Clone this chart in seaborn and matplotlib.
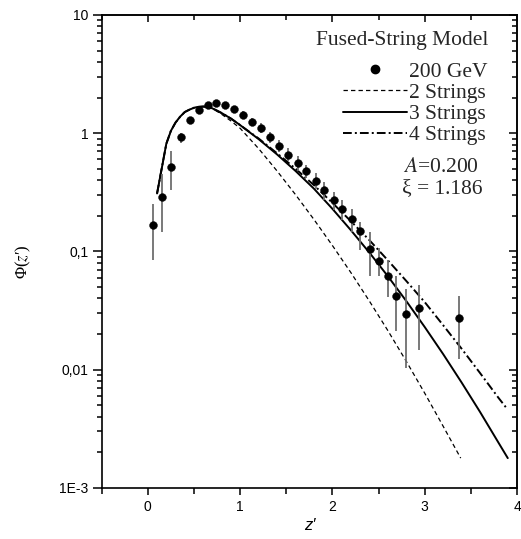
import numpy as np
import pandas as pd
import matplotlib
matplotlib.use("Agg")
import matplotlib.pyplot as plt
import seaborn as sns
from matplotlib.ticker import LogLocator, MultipleLocator, NullFormatter, FixedLocator, FixedFormatter
from matplotlib.lines import Line2D

# ---------------- data ----------------
z_data = [0.058, 0.156, 0.253, 0.354, 0.452, 0.549, 0.647, 0.741, 0.838, 0.936,
          1.033, 1.131, 1.228, 1.326, 1.423, 1.524, 1.622, 1.719, 1.817, 1.914,
          2.012, 2.109, 2.207, 2.304, 2.402, 2.500, 2.597, 2.690, 2.792, 2.937, 3.373]
phi_data = [0.166, 0.29, 0.52, 0.92, 1.29, 1.57, 1.74, 1.81, 1.72, 1.60,
            1.43, 1.24, 1.10, 0.92, 0.78, 0.66, 0.556, 0.476, 0.394, 0.331,
            0.270, 0.228, 0.187, 0.148, 0.104, 0.083, 0.062, 0.042, 0.0294, 0.0334, 0.0272]
phi_low = [0.0845, 0.147, 0.33, 0.82, 1.22, 1.48, 1.64, 1.71, 1.62, 1.51,
           1.33, 1.14, 1.00, 0.83, 0.69, 0.58, 0.48, 0.418, 0.335, 0.272,
           0.224, 0.185, 0.145, 0.103, 0.062, 0.062, 0.041, 0.021, 0.0104, 0.0145, 0.0123]
phi_high = [0.25, 0.45, 0.706, 1.01, 1.37, 1.66, 1.84, 1.92, 1.82, 1.70,
            1.54, 1.35, 1.21, 1.02, 0.88, 0.75, 0.64, 0.538, 0.458, 0.389,
            0.320, 0.272, 0.228, 0.178, 0.147, 0.106, 0.085, 0.062, 0.048, 0.052, 0.042]

z_2s = [0.10, 0.15, 0.20, 0.25, 0.30, 0.35, 0.40, 0.45, 0.50, 0.55, 0.60, 0.65, 0.70,
        0.75, 0.80, 0.90, 1.0, 1.2, 1.4, 1.6, 1.8, 2.0, 2.2, 2.4, 2.6, 2.8, 3.0, 3.2, 3.39]
phi_2s = [0.309, 0.501, 0.813, 1.047, 1.23, 1.38, 1.51, 1.58, 1.64, 1.67, 1.68, 1.67, 1.62,
          1.53, 1.445, 1.27, 1.10, 0.741, 0.479, 0.302, 0.186, 0.112, 0.0661, 0.038, 0.0214,
          0.01175, 0.00631, 0.00331, 0.00178]

z_3s = [0.10, 0.15, 0.20, 0.25, 0.30, 0.35, 0.40, 0.45, 0.50, 0.55, 0.60, 0.65, 0.70,
        0.75, 0.80, 0.90, 1.0, 1.2, 1.4, 1.6, 1.8, 2.0, 2.2, 2.4, 2.6, 2.8, 3.0, 3.2, 3.4,
        3.6, 3.8, 3.9]
phi_3s = [0.309, 0.501, 0.813, 1.047, 1.23, 1.38, 1.51, 1.58, 1.64, 1.67, 1.68, 1.67, 1.62,
          1.55, 1.48, 1.33, 1.17, 0.891, 0.661, 0.479, 0.339, 0.229, 0.151, 0.0977, 0.0617,
          0.0380, 0.0229, 0.0135, 0.00776, 0.00437, 0.0024, 0.00178]

z_4s = [0.10, 0.15, 0.20, 0.25, 0.30, 0.35, 0.40, 0.45, 0.50, 0.55, 0.60, 0.65, 0.70,
        0.75, 0.80, 0.90, 1.0, 1.2, 1.4, 1.6, 1.8, 2.0, 2.2, 2.4, 2.6, 2.8, 3.0, 3.2, 3.4,
        3.6, 3.8, 3.89]
phi_4s = [0.309, 0.501, 0.813, 1.047, 1.23, 1.38, 1.51, 1.58, 1.64, 1.67, 1.68, 1.67, 1.62,
          1.55, 1.48, 1.33, 1.17, 0.902, 0.676, 0.501, 0.363, 0.257, 0.18, 0.1245, 0.0841,
          0.0562, 0.0372, 0.0237, 0.015, 0.00933, 0.00575, 0.00468]

series_labels = ["2 Strings", "3 Strings", "4 Strings"]
data_label = "200 GeV"
legend_title = "Fused-String Model"
param_lines = [r"$\mathit{A}$=0.200", "ξ = 1.186"]
y_ticks = [1e-3, 1e-2, 1e-1, 1, 10]
y_tick_labels = ["1E-3", "0,01", "0,1", "1", "10"]
x_ticks = [0, 1, 2, 3, 4]
x_tick_labels = ["0", "1", "2", "3", "4"]

# ---------------- style ----------------
sns.set_theme(style="ticks")
plt.rcParams["font.family"] = ["Liberation Sans", "DejaVu Sans"]
plt.rcParams["mathtext.fontset"] = "stix"

curves = pd.concat([
    pd.DataFrame({"z": z_2s, "phi": phi_2s, "model": series_labels[0]}),
    pd.DataFrame({"z": z_3s, "phi": phi_3s, "model": series_labels[1]}),
    pd.DataFrame({"z": z_4s, "phi": phi_4s, "model": series_labels[2]}),
], ignore_index=True)

dash_map = {series_labels[0]: (3.5, 2.5), series_labels[1]: "", series_labels[2]: (4.5, 1.6, 1.0, 1.6)}
size_map = {series_labels[0]: 0.9, series_labels[1]: 1.4, series_labels[2]: 1.4}

fig = plt.figure(figsize=(5.21, 5.39), dpi=100)
ax = fig.add_axes([101.7 / 521, (539 - 487.7) / 539, 415.3 / 521, 472.7 / 539])

sns.lineplot(data=curves, x="z", y="phi", hue="model", style="model", size="model",
             palette={k: "black" for k in series_labels}, dashes=dash_map, sizes=size_map,
             estimator=None, sort=False, legend=False, ax=ax)

z_arr = np.array(z_data)
p_arr = np.array(phi_data)
yerr = [p_arr - np.array(phi_low), np.array(phi_high) - p_arr]
ax.errorbar(z_arr, p_arr, yerr=yerr, fmt="none", ecolor="#6e6e6e", elinewidth=1.3, capsize=0, zorder=3)
sns.scatterplot(x=z_data, y=phi_data, color="black", s=32, edgecolor="black", linewidth=0.3,
                ax=ax, zorder=5, legend=False)

ax.set_yscale("log")
ax.set_xlim(-0.5, 4)
ax.set_ylim(1e-3, 10)
ax.yaxis.set_major_locator(FixedLocator(y_ticks))
ax.yaxis.set_major_formatter(FixedFormatter(y_tick_labels))
ax.yaxis.set_minor_locator(LogLocator(base=10, subs=np.arange(2, 10)))
ax.yaxis.set_minor_formatter(NullFormatter())
ax.xaxis.set_major_locator(FixedLocator(x_ticks))
ax.xaxis.set_major_formatter(FixedFormatter(x_tick_labels))
ax.xaxis.set_minor_locator(MultipleLocator(0.5))

for sp in ax.spines.values():
    sp.set_linewidth(1.2)
    sp.set_color("black")
    sp.set_visible(True)

ax.tick_params(which="both", direction="out", width=1.1, colors="black", top=False, right=False)
ax.tick_params(axis="y", which="major", length=6.5, labelsize=10, pad=3)
ax.tick_params(axis="y", which="minor", length=3.5)
ax.tick_params(axis="x", which="major", length=5, labelsize=10, pad=4)
ax.tick_params(axis="x", which="minor", length=4)

sec_x = ax.secondary_xaxis("top")
sec_x.xaxis.set_major_locator(FixedLocator(x_ticks))
sec_x.xaxis.set_minor_locator(MultipleLocator(0.5))
sec_x.tick_params(which="both", direction="in", labeltop=False, width=1.1, colors="black")
sec_x.tick_params(which="major", length=5)
sec_x.tick_params(which="minor", length=3.5)
sec_x.spines["top"].set_linewidth(1.2)

sec_y = ax.secondary_yaxis("right")
sec_y.yaxis.set_major_locator(FixedLocator(y_ticks))
sec_y.yaxis.set_minor_locator(LogLocator(base=10, subs=np.arange(2, 10)))
sec_y.yaxis.set_minor_formatter(NullFormatter())
sec_y.tick_params(which="both", direction="in", labelright=False, width=1.1, colors="black")
sec_y.tick_params(which="major", length=6)
sec_y.tick_params(which="minor", length=3.5)
sec_y.spines["right"].set_linewidth(1.2)

ax.set_xlabel("z′", fontsize=12, style="italic", color="black")
ax.xaxis.set_label_coords(0.5, -0.065)
ax.set_ylabel("Φ($z$′)", fontsize=12, color="black",
              family=["Liberation Serif", "DejaVu Serif"])
ax.yaxis.set_label_coords(-0.165, 0.4775)

# legend
handles = [
    Line2D([], [], linestyle="none", marker="o", color="black", markersize=6),
    Line2D([], [], color="black", lw=0.9, dashes=dash_map[series_labels[0]]),
    Line2D([], [], color="black", lw=1.4),
    Line2D([], [], color="black", lw=1.4, dashes=dash_map[series_labels[2]]),
]
labels = [data_label] + series_labels
leg = ax.legend(handles, labels, loc="center right", bbox_to_anchor=(0.93, 0.8128),
                frameon=False, borderpad=0, borderaxespad=0, handlelength=2.95,
                handletextpad=0.12, labelspacing=0.05,
                prop={"family": "Liberation Serif", "size": 15.5})

ax.text(0.93, 0.9365, legend_title, transform=ax.transAxes, fontsize=15.5,
        family="Liberation Serif", ha="right", va="baseline")
ax.text(0.726, 0.668, param_lines[0], transform=ax.transAxes, fontsize=15.5,
        family="Liberation Serif", ha="left", va="baseline")
ax.text(0.722, 0.623, param_lines[1], transform=ax.transAxes, fontsize=15.5,
        family="Liberation Serif", ha="left", va="baseline")

fig.savefig("out.png", dpi=100)
